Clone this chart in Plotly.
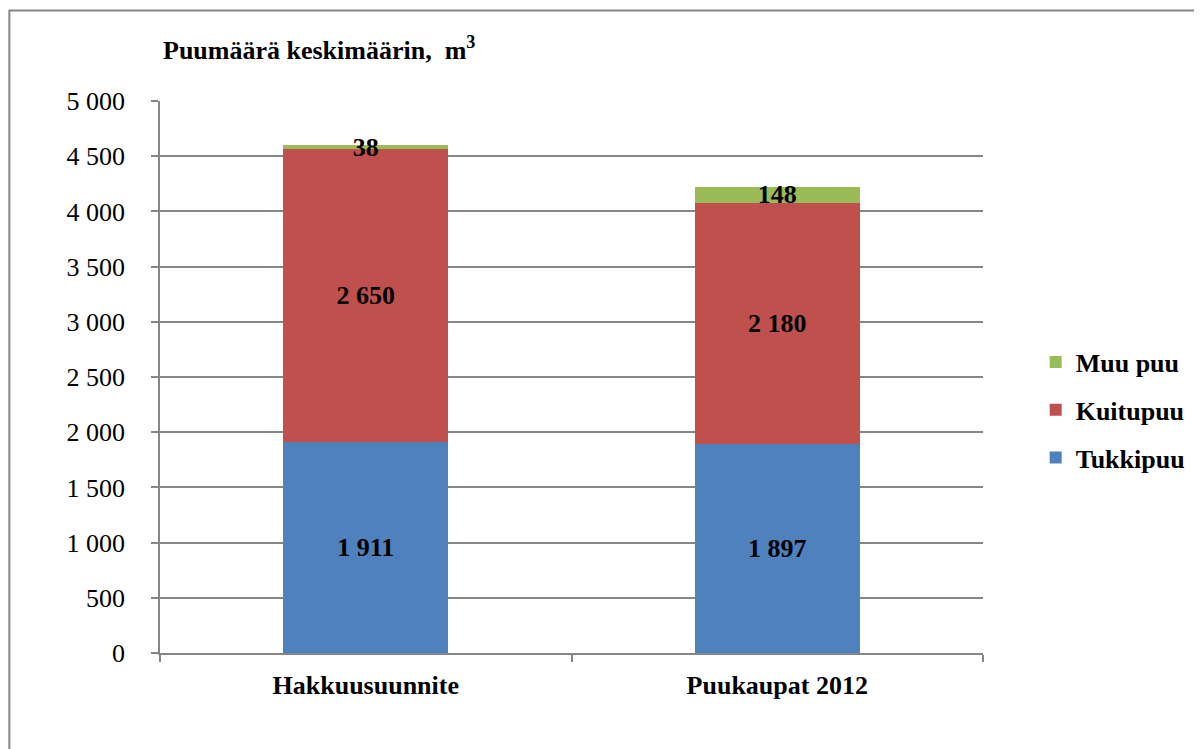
import plotly.graph_objects as go

categories = ['Hakkuusuunnite', 'Puukaupat 2012']
tukkipuu = [1911, 1897]
kuitupuu = [2650, 2180]
muu_puu = [38, 148]
y_ticks = [0, 500, 1000, 1500, 2000, 2500, 3000, 3500, 4000, 4500, 5000]

FONT = 'Liberation Serif'
GRAY = '#868686'

# page body has an 8px margin, so the figure is 8px smaller than the window
W, H = 1194, 741
L, T = 152, 93
PW, PH = 825, 552

series = [('Tukkipuu', tukkipuu, '#4F81BD', 3),
          ('Kuitupuu', kuitupuu, '#C0504D', 2),
          ('Muu puu', muu_puu, '#9BBB59', 1)]

fig = go.Figure()
for name, vals, col, rank in series:
    fig.add_trace(go.Bar(
        x=categories, y=vals, name=name, legendgroup=name, legendrank=rank,
        marker=dict(color=col, line=dict(width=0)),
        texttemplate='%{y:,}', textposition='inside',
        insidetextanchor='middle', constraintext='none',
        textfont=dict(family=FONT, size=26, color='black', weight='bold'),
        textangle=0,
    ))

fig.update_layout(
    barmode='stack', bargap=0.6,
    width=W, height=H,
    margin=dict(l=L, r=W - L - PW, t=T, b=H - T - PH),
    paper_bgcolor='white', plot_bgcolor='white',
    separators=', ',
    font=dict(family=FONT, color='black'),
    showlegend=True,
    legend=dict(traceorder='grouped', x=1.064, xanchor='left',
                y=0.44, yanchor='middle', tracegroupgap=11,
                font=dict(family=FONT, size=26, color='black', weight='bold'),
                itemwidth=30),
    title=dict(text='<b>Puumäärä keskimäärin,  m<sup>3</sup></b>',
               font=dict(family=FONT, size=26, color='black'),
               xref='container', x=(163 - 8) / W, xanchor='left',
               yref='container', y=1 - (50 - 8) / H, yanchor='middle'),
)

fig.update_yaxes(range=[0, 5000], tickvals=y_ticks, tickformat=',',
                 showgrid=True, gridcolor=GRAY, gridwidth=1.5,
                 showline=True, linecolor=GRAY, linewidth=1.5,
                 ticks='outside', ticklen=7, tickcolor=GRAY, tickwidth=1.5,
                 ticklabelstandoff=21,
                 tickfont=dict(family=FONT, size=26, color='black'),
                 zeroline=False)

fig.update_xaxes(tickvals=categories, ticktext=['<b>%s</b>' % c for c in categories],
                 showline=True, linecolor=GRAY, linewidth=2,
                 ticks='outside', tickson='boundaries', ticklen=7,
                 tickcolor=GRAY, tickwidth=1.5, ticklabelstandoff=8,
                 tickfont=dict(family=FONT, size=26, color='black'))

# outer chart frame
fig.add_shape(type='rect', xref='paper', yref='paper',
              x0=(1 - L) / PW, x1=1.5, y0=-0.5, y1=(PH + T - 2.5) / PH,
              line=dict(color=GRAY, width=2), layer='below')

fig.write_html('out.html')
